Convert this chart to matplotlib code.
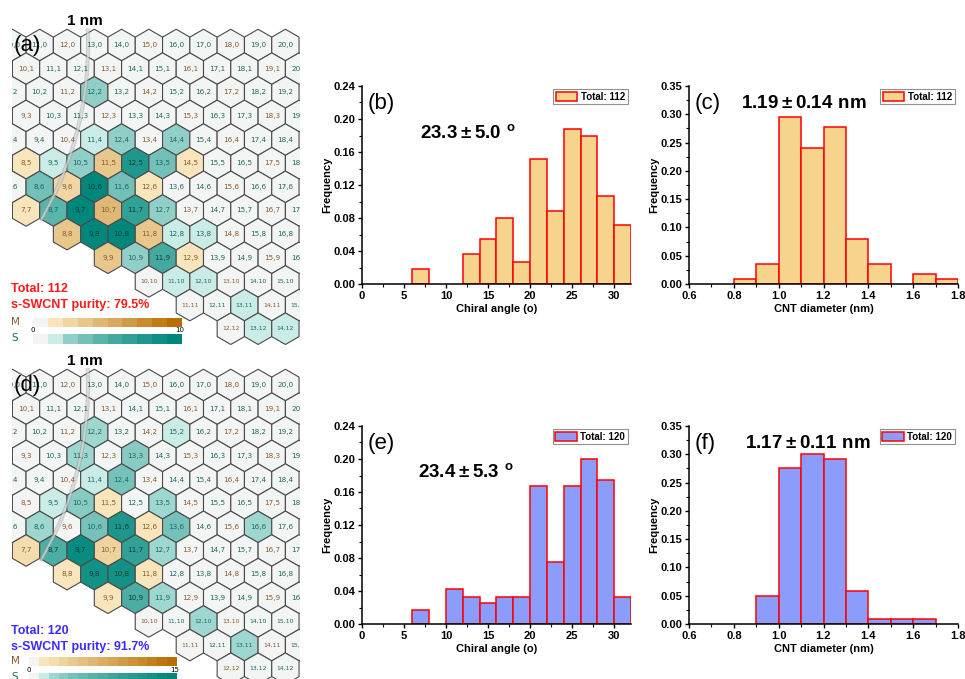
import numpy as np
import matplotlib
matplotlib.use("Agg")
import matplotlib.pyplot as plt
from matplotlib.patches import RegularPolygon, Rectangle
from matplotlib.colors import LinearSegmentedColormap
from matplotlib.ticker import AutoMinorLocator

plt.rcParams['font.family'] = ['Liberation Sans', 'DejaVu Sans']
plt.rcParams['mathtext.fontset'] = 'custom'
plt.rcParams['mathtext.rm'] = 'Liberation Sans'
plt.rcParams['mathtext.bf'] = 'Liberation Sans:bold'

# ---- chirality maps: (n,m) and number of tubes counted ----
a_chiral = [(12, 2), (11, 4), (12, 4), (14, 4), (8, 5), (9, 5), (10, 5), (11, 5), (12, 5),
            (13, 5), (14, 5), (8, 6), (9, 6), (10, 6), (11, 6), (12, 6), (7, 7), (8, 7),
            (9, 7), (10, 7), (11, 7), (12, 7), (8, 8), (9, 8), (10, 8), (11, 8), (12, 8),
            (13, 8), (9, 9), (10, 9), (11, 9), (12, 9), (11, 10), (12, 10), (13, 11),
            (13, 12), (14, 12)]
a_count = [2, 1, 2, 2, 1, 1, 2, 3, 7,
           3, 1, 3, 2, 9, 3, 1, 1, 4,
           10, 4, 6, 2, 3, 9, 9, 3, 1,
           1, 3, 2, 5, 1, 1, 1, 1,
           1, 1]

d_chiral = [(12, 2), (15, 2), (11, 3), (13, 3), (11, 4), (12, 4), (9, 5), (10, 5), (11, 5),
            (13, 5), (8, 6), (10, 6), (11, 6), (12, 6), (13, 6), (16, 6), (7, 7), (8, 7),
            (9, 7), (10, 7), (11, 7), (12, 7), (8, 8), (9, 8), (10, 8), (11, 8), (9, 9),
            (10, 9), (11, 9), (12, 10), (13, 11)]
d_count = [2, 1, 2, 3, 1, 4, 1, 3, 1,
           2, 2, 4, 11, 1, 4, 2, 2, 7,
           13, 3, 9, 2, 1, 12, 12, 1, 1,
           7, 2, 2, 2]

# ---- histograms (only non-empty bins) ----
b_left = [6, 12, 14, 16, 18, 20, 22, 24, 26, 28, 30]
b_freq = [0.018, 0.036, 0.054, 0.080, 0.027, 0.152, 0.089, 0.188, 0.179, 0.107, 0.071]
e_left = [6, 10, 12, 14, 16, 18, 20, 22, 24, 26, 28, 30]
e_freq = [0.017, 0.042, 0.033, 0.025, 0.033, 0.033, 0.167, 0.075, 0.167, 0.200, 0.175, 0.033]
c_left = [0.8, 0.9, 1.0, 1.1, 1.2, 1.3, 1.4, 1.6, 1.7]
c_freq = [0.009, 0.036, 0.295, 0.241, 0.277, 0.080, 0.036, 0.018, 0.009]
f_left = [0.9, 1.0, 1.1, 1.2, 1.3, 1.4, 1.5, 1.6]
f_freq = [0.050, 0.275, 0.300, 0.292, 0.058, 0.008, 0.008, 0.008]

W, H = 965, 679
fig = plt.figure(figsize=(W / 100, H / 100), dpi=100)

S3 = np.sqrt(3) / 2
U = 27.3          # px per lattice unit in the maps
X0 = 67 - 12 * U  # px of n=0, m=0
GRAY = '#f3f5f4'
cm_m = LinearSegmentedColormap.from_list('m', ['#f8e5bc', '#b86e00'])
cm_s = LinearSegmentedColormap.from_list('s', ['#c9ece6', '#00877b'])


def px_axes(x0, y0, x1, y1, **kw):
    return fig.add_axes([x0 / W, 1 - y1 / H, (x1 - x0) / W, (y1 - y0) / H], **kw)


def level_t(v, ncell, metal):
    k = min(v, ncell - 1)
    t = (k - 1) / (ncell - 2)
    return t if metal else t ** 0.6


def level_color(v, ncell, metal):
    t = level_t(v, ncell, metal)
    return cm_m(t) if metal else cm_s(t)


def draw_map(y_off, chiral, counts, ncell):
    y1 = min(y_off + 345, H)
    ax = px_axes(12, y_off + 28, 300, y1)
    ax.set_xlim((12 - X0) / U, (300 - X0) / U)
    ax.set_ylim((y_off + 45 - y1) / U, 17 / U)
    ax.axis('off')
    cnt = dict(zip(chiral, counts))
    for m in range(13):
        for n in range(m, 22):
            x, y = n + m / 2, -m * S3
            if x > 20.6:
                continue
            metal = (n - m) % 3 == 0
            v = cnt.get((n, m), 0)
            face = level_color(v, ncell, metal) if v else GRAY
            ax.add_patch(RegularPolygon((x, y), 6, radius=1 / np.sqrt(3),
                                        facecolor=face, edgecolor='#4a4a4a', lw=0.8))
            if metal:
                tc = '#8b5a2b'
            else:
                tc = '#0c403a' if v and level_t(v, ncell, False) > 0.6 else '#1f675e'
            ax.text(x, y, f"{n},{m}", ha='center', va='center',
                    fontsize=4.4 if m >= 10 else 5.2, family='DejaVu Sans',
                    color=tc, clip_on=True)
    # 1 nm diameter line: |a| sqrt(n^2+nm+m^2) = pi * d
    R = np.pi * 1.0 / 0.246
    th = np.radians(np.linspace(-3, 30, 80))
    ax.plot(R * np.cos(th), -R * np.sin(th), color='#9a9a9a', lw=3.0, alpha=0.45,
            solid_capstyle='round')
    ax.plot(R * np.cos(th), -R * np.sin(th), color='#e6e6e6', lw=1.3, alpha=0.6,
            solid_capstyle='round')


def colorbar(ov, x0, x1, y, h, ncell, metal):
    cw = (x1 - x0) / ncell
    for k in range(ncell):
        c = GRAY if k == 0 else level_color(k, ncell, metal)
        ov.add_patch(Rectangle((x0 + k * cw, y), cw, h, facecolor=c, edgecolor='none'))


def hist_panel(box, left, freq, width, fill, xlim, xticks, xfmt, ylim, yticks,
               xlabel, tag, stat, stat_x, total):
    ax = px_axes(*box)
    ax.bar(left, freq, width=width, align='edge', color=fill, edgecolor='#ff0000',
           lw=1.1, label=f"Total: {total}")
    ax.set_xlim(*xlim)
    ax.set_ylim(*ylim)
    ax.set_xticks(xticks, [xfmt % v for v in xticks], fontweight='bold', fontsize=8)
    ax.set_yticks(yticks, ['%.2f' % v for v in yticks], fontweight='bold', fontsize=8)
    ax.xaxis.set_minor_locator(AutoMinorLocator(2))
    ax.yaxis.set_minor_locator(AutoMinorLocator(2))
    ax.tick_params(which='major', direction='out', length=3, width=1, pad=2)
    ax.tick_params(which='minor', direction='out', length=2, width=0.8)
    for s in ['top', 'right']:
        ax.spines[s].set_visible(False)
    for s in ['left', 'bottom']:
        ax.spines[s].set_linewidth(1.1)
    ax.set_xlabel(xlabel, fontweight='bold', fontsize=8, labelpad=2)
    ax.set_ylabel('Frequency', fontweight='bold', fontsize=8, labelpad=1)
    ax.text(0.022, 0.91, tag, transform=ax.transAxes, fontsize=16, va='center')
    ax.text(stat_x[0], stat_x[1], stat, transform=ax.transAxes, fontsize=13.5,
            fontweight='bold', va='center')
    ax.legend(loc='upper right', prop={'weight': 'bold', 'size': 7}, fancybox=False,
              edgecolor='#909090', framealpha=1, borderpad=0.25, handlelength=2.2,
              handleheight=1.0, handletextpad=0.4, borderaxespad=0.35)
    ax.get_legend().get_frame().set_linewidth(0.8)
    return ax


draw_map(0, a_chiral, a_count, 10)
draw_map(340, d_chiral, d_count, 15)

ang_ticks = [0, 5, 10, 15, 20, 25, 30]
ang_y = [0.00, 0.04, 0.08, 0.12, 0.16, 0.20, 0.24]
dia_ticks = [0.6, 0.8, 1.0, 1.2, 1.4, 1.6, 1.8]
dia_y = [0.00, 0.05, 0.10, 0.15, 0.20, 0.25, 0.30, 0.35]
orange, blue = '#f6d48e', '#8c9cfa'

hist_panel((362, 86, 631, 284), b_left, b_freq, 2, orange, (0, 32), ang_ticks, '%d',
           (0, 0.24), ang_y, 'Chiral angle (o)', '(b)',
           r'$\mathbf{23.3\pm5.0\ ^{o}}$', (0.215, 0.765), 112)
hist_panel((689, 86, 958, 284), c_left, c_freq, 0.1, orange, (0.6, 1.8), dia_ticks, '%.1f',
           (0, 0.35), dia_y, 'CNT diameter (nm)', '(c)',
           r'$\mathbf{1.19\pm0.14\ nm}$', (0.195, 0.91), 112)
hist_panel((362, 426, 631, 624), e_left, e_freq, 2, blue, (0, 32), ang_ticks, '%d',
           (0, 0.24), ang_y, 'Chiral angle (o)', '(e)',
           r'$\mathbf{23.4\pm5.3\ ^{o}}$', (0.21, 0.768), 120)
hist_panel((689, 426, 958, 624), f_left, f_freq, 0.1, blue, (0.6, 1.8), dia_ticks, '%.1f',
           (0, 0.35), dia_y, 'CNT diameter (nm)', '(f)',
           r'$\mathbf{1.17\pm0.11\ nm}$', (0.21, 0.91), 120)

# ---- overlay in pixel coordinates for map annotations ----
ov = fig.add_axes([0, 0, 1, 1])
ov.set_xlim(0, W)
ov.set_ylim(H, 0)
ov.axis('off')

red, blu = '#ff1a1a', '#3b2cff'
for y_off, tag, total, purity, col, ncell, x0, x1, dy in [
        (0, '(a)', 112, 79.5, red, 10, 33, 182, 0),
        (340, '(d)', 120, 91.7, blu, 15, 29, 177, 2)]:
    ov.text(85, 21 + y_off, '1 nm', ha='center', va='center', fontsize=11, fontweight='bold')
    ov.text(27, 46 + y_off, tag, ha='center', va='center', fontsize=16)
    ov.text(11, 289 + y_off + dy, f'Total: {total}', color=col,
            fontsize=9, fontweight='bold', va='center')
    ov.text(11, 305 + y_off + dy, f's-SWCNT purity: {purity}%', color=col,
            fontsize=9, fontweight='bold', va='center')
    yb = 318 + y_off - (1 if y_off else 0)
    colorbar(ov, x0, x1, yb, 8.5, ncell, True)
    colorbar(ov, x0, x1, yb + 16, 10, ncell, False)
    ov.text(15, yb + 4, 'M', ha='center', va='center', fontsize=7.5, color='#8b5a2b',
            family='DejaVu Sans')
    ov.text(15, yb + 20, 'S', ha='center', va='center', fontsize=7.5, color='#1f675e',
            family='DejaVu Sans')
    ov.text(x0, yb + 12.5, '0', ha='center', va='center', fontsize=5, family='DejaVu Sans')
    ov.text(x1 - 2, yb + 12.5, str(ncell), ha='center', va='center', fontsize=5,
            family='DejaVu Sans')

fig.savefig('out.png', dpi=100)
